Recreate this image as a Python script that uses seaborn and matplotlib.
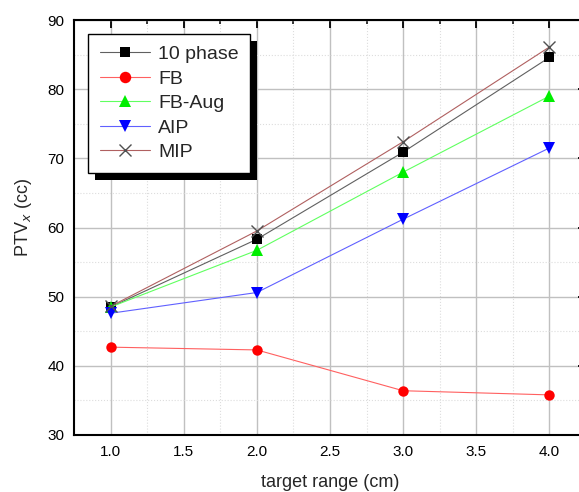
import matplotlib
matplotlib.use("Agg")
import matplotlib.pyplot as plt
import seaborn as sns
import pandas as pd
from matplotlib.patches import Rectangle
from matplotlib.ticker import MultipleLocator

# data
target_range = [1.0, 2.0, 3.0, 4.0]
ten_phase = [48.5, 58.3, 70.9, 84.6]
fb = [42.7, 42.3, 36.4, 35.8]
fb_aug = [48.5, 56.7, 68.0, 79.0]
aip = [47.6, 50.6, 61.2, 71.5]
mip = [48.6, 59.5, 72.4, 86.1]

series = ["10 phase", "FB", "FB-Aug", "AIP", "MIP"]
values = [ten_phase, fb, fb_aug, aip, mip]

# line colour, marker, marker colour, marker size
styles = {
    "10 phase": ("#606060", "s", "black", 6.5),
    "FB": ("#ff6060", "o", "red", 7.5),
    "FB-Aug": ("#60ff60", "^", "#00ee00", 8),
    "AIP": ("#6060ff", "v", "blue", 8),
    "MIP": ("#b06060", "x", "#505050", 8),
}

sns.set_theme(style="white")
plt.rcParams['font.family'] = ['Liberation Sans', 'DejaVu Sans']

fig = plt.figure(figsize=(5.79, 4.92), dpi=100)
ax = fig.add_axes([74 / 579, 57 / 492, 512 / 579, 415 / 492])

for name, vals in zip(series, values):
    lc, mk, mc, ms = styles[name]
    df = pd.DataFrame({"x": target_range, "y": vals})
    sns.lineplot(data=df, x="x", y="y", ax=ax, color=lc, linewidth=0.8,
                 marker=mk, markersize=ms, markerfacecolor=mc,
                 markeredgecolor=mc, markeredgewidth=1.0 if mk == "x" else 0,
                 label=name, zorder=3)

ax.set_xlim(0.75, 4.25)
ax.set_ylim(30, 90)
ax.xaxis.set_major_locator(MultipleLocator(0.5))
ax.xaxis.set_minor_locator(MultipleLocator(0.25))
ax.yaxis.set_major_locator(MultipleLocator(10))
ax.yaxis.set_minor_locator(MultipleLocator(5))
ax.set_xticks([1.0, 1.5, 2.0, 2.5, 3.0, 3.5, 4.0])

ax.grid(which="major", color="#c0c0c0", linewidth=1.0)
ax.grid(which="minor", color="#dddddd", linewidth=0.8, linestyle=":")
ax.set_axisbelow(True)

for s in ax.spines.values():
    s.set_color("black")
    s.set_linewidth(1.5)

ax.tick_params(which="both", direction="in", top=True, right=True, colors="black")
ax.tick_params(which="major", length=6, width=1.3, labelsize=11, pad=7)
ax.tick_params(which="minor", length=3, width=1.1)

ax.set_xlabel("target range (cm)", fontsize=13, labelpad=11)
ax.set_ylabel("PTV$_x$ (cc)", fontsize=13)
ax.yaxis.set_label_coords(-0.079, 0.525)

leg = ax.legend(loc="upper left", bbox_to_anchor=(88 / 579, 458 / 492),
                bbox_transform=fig.transFigure, fancybox=False, frameon=True,
                edgecolor="black", facecolor="white", framealpha=1,
                fontsize=14, handlelength=2.6, markerscale=1.1,
                labelspacing=0.35, borderpad=0.6, handletextpad=0.4,
                borderaxespad=0)
leg.get_frame().set_linewidth(1.0)
leg.set_zorder(10)

# black drop shadow behind the legend box
fig.canvas.draw()
bb = leg.get_window_extent()
shadow = Rectangle((bb.x0 + 7, bb.y0 - 7), bb.width, bb.height,
                   transform=None, facecolor="black", edgecolor="none", zorder=9)
ax.add_artist(shadow)

fig.savefig("out.png", dpi=100)
